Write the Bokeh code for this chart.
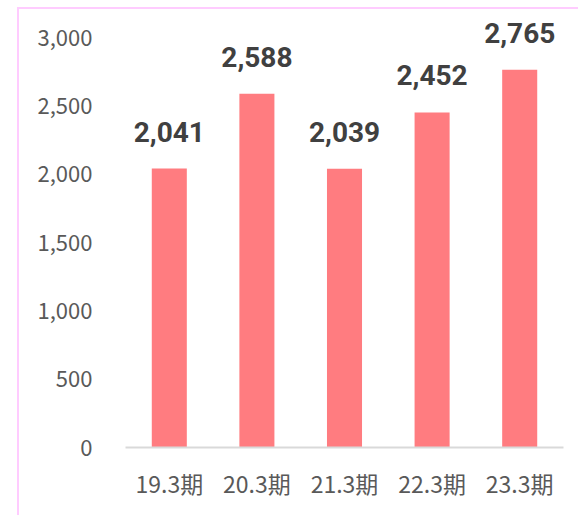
from bokeh.plotting import figure
from bokeh.models import ColumnDataSource, FixedTicker, Range1d, NumeralTickFormatter
from bokeh.core.properties import value
from bokeh.embed import file_html
from bokeh.resources import INLINE

categories = ["19.3期", "20.3期", "21.3期", "22.3期", "23.3期"]
values = [2041, 2588, 2039, 2452, 2765]
labels = ["2,041", "2,588", "2,039", "2,452", "2,765"]
y_ticks = [0, 500, 1000, 1500, 2000, 2500, 3000]

src = ColumnDataSource(dict(cat=categories, val=values, lab=labels))

p = figure(x_range=categories, width=561, height=508, output_backend="svg",
           toolbar_location=None, min_border_left=106, min_border_right=17,
           min_border_top=0, min_border_bottom=70)
p.y_range = Range1d(0, 3205)
p.x_range.range_padding = 0.0
p.margin = (7, 0, 0, 17)
p.styles = {"border-left": "2px solid #FFCCFF", "border-top": "2px solid #FFCCFF"}

p.vbar(x="cat", top="val", width=0.4, source=src, fill_color="#FF7C80", line_color=None)
p.text(x="cat", y="val", text="lab", source=src, text_align="center", text_baseline="alphabetic",
       y_offset=-37, text_font=value("Roboto"), text_font_style="bold",
       text_font_size="28px", text_color="#404040")

p.outline_line_color = None
p.xgrid.grid_line_color = None
p.ygrid.grid_line_color = None
p.background_fill_color = "white"
p.border_fill_color = "white"

p.yaxis.ticker = FixedTicker(ticks=y_ticks)
p.yaxis.formatter = NumeralTickFormatter(format="0,0")
p.yaxis.axis_line_color = None
p.yaxis.major_tick_line_color = None
p.yaxis.minor_tick_line_color = None
p.yaxis.major_label_standoff = 27
p.yaxis.major_label_text_font = "Noto Sans CJK JP"
p.yaxis.major_label_text_font_size = "22px"
p.yaxis.major_label_text_color = "#595959"

p.xaxis.axis_line_color = "#D9D9D9"
p.xaxis.axis_line_width = 2
p.xaxis.major_tick_line_color = None
p.xaxis.minor_tick_line_color = None
p.xaxis.major_label_standoff = 12
p.xaxis.major_label_text_font = "Noto Sans CJK JP"
p.xaxis.major_label_text_font_size = "23px"
p.xaxis.major_label_text_color = "#595959"

open("out.html", "w").write(file_html(p, INLINE))
